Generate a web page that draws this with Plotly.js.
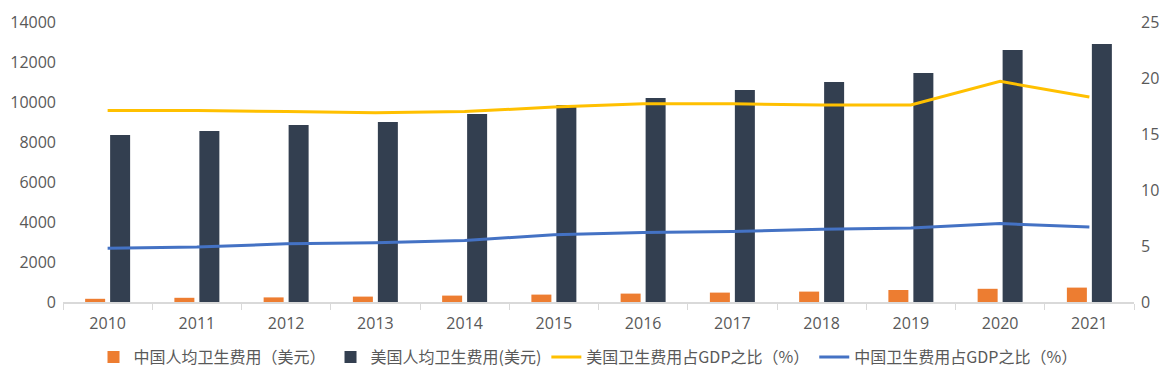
<!DOCTYPE html>
<html>
<head>
<meta charset="utf-8">
<script src="https://cdn.plot.ly/plotly-3.0.1.min.js"></script>
<style>html,body{margin:0;padding:0;background:#fff;}#chart{width:1176px;height:376px;}</style>
</head>
<body>
<div id="chart"></div>
<script>
var years = ['2010','2011','2012','2013','2014','2015','2016','2017','2018','2019','2020','2021'];
var chinaPerCapita = [160, 210, 230, 270, 320, 370, 420, 470, 520, 600, 660, 720];
var usPerCapita = [8350, 8550, 8850, 9000, 9400, 9850, 10200, 10600, 11000, 11450, 12600, 12900];
var usGdpShare = [17.1, 17.1, 17.0, 16.9, 17.0, 17.4, 17.7, 17.7, 17.6, 17.6, 19.7, 18.3];
var chinaGdpShare = [4.8, 4.9, 5.2, 5.3, 5.5, 6.0, 6.2, 6.3, 6.5, 6.6, 7.0, 6.7];

var seriesNames = ['中国人均卫生费用（美元）', '美国人均卫生费用(美元)', '美国卫生费用占GDP之比（%）', '中国卫生费用占GDP之比（%）'];

var traces = [
  {type:'bar', x: years, y: chinaPerCapita, name: seriesNames[0], marker:{color:'#ED7D31'}, yaxis:'y'},
  {type:'bar', x: years, y: usPerCapita, name: seriesNames[1], marker:{color:'#333F50'}, yaxis:'y'},
  {type:'scatter', mode:'lines', x: years, y: usGdpShare, name: seriesNames[2], line:{color:'#FFC000', width:3}, yaxis:'y2'},
  {type:'scatter', mode:'lines', x: years, y: chinaGdpShare, name: seriesNames[3], line:{color:'#4472C4', width:3}, yaxis:'y2'}
];

var tickFont = {family:'"Open Sans", "Noto Sans CJK SC", sans-serif', size:16, color:'#595959'};

var layout = {
  width:1176, height:376,
  margin:{l:63, r:42, t:22, b:74},
  paper_bgcolor:'#fff', plot_bgcolor:'#fff',
  barmode:'group', bargap:0.44, bargroupgap:0.2,
  showlegend:true,
  legend:{orientation:'h', x:0.5, xanchor:'center', xref:'container', y:0.05, yanchor:'middle', yref:'container',
    font:{family:'"Noto Sans CJK SC", "Open Sans", sans-serif', size:16, color:'#595959'},
    traceorder:'normal', itemwidth:30},
  xaxis:{type:'category', showgrid:false, showline:true, linecolor:'#D9D9D9', linewidth:1.5,
    ticks:'outside', tickson:'boundaries', ticklen:6, tickcolor:'#D9D9D9', tickfont:tickFont, zeroline:false,
    ticklabelstandoff:6},
  yaxis:{range:[0,14000], dtick:2000, tickformat:'d', showgrid:false, showline:false, zeroline:false, tickfont:tickFont, ticks:'', ticklabelstandoff:6},
  yaxis2:{range:[0,25], dtick:5, tickformat:'d', overlaying:'y', side:'right', showgrid:false, showline:false, zeroline:false, tickfont:tickFont, ticks:'', ticklabelstandoff:6}
};

Plotly.newPlot('chart', traces, layout, {displayModeBar:false, staticPlot:true});
</script>
</body>
</html>
